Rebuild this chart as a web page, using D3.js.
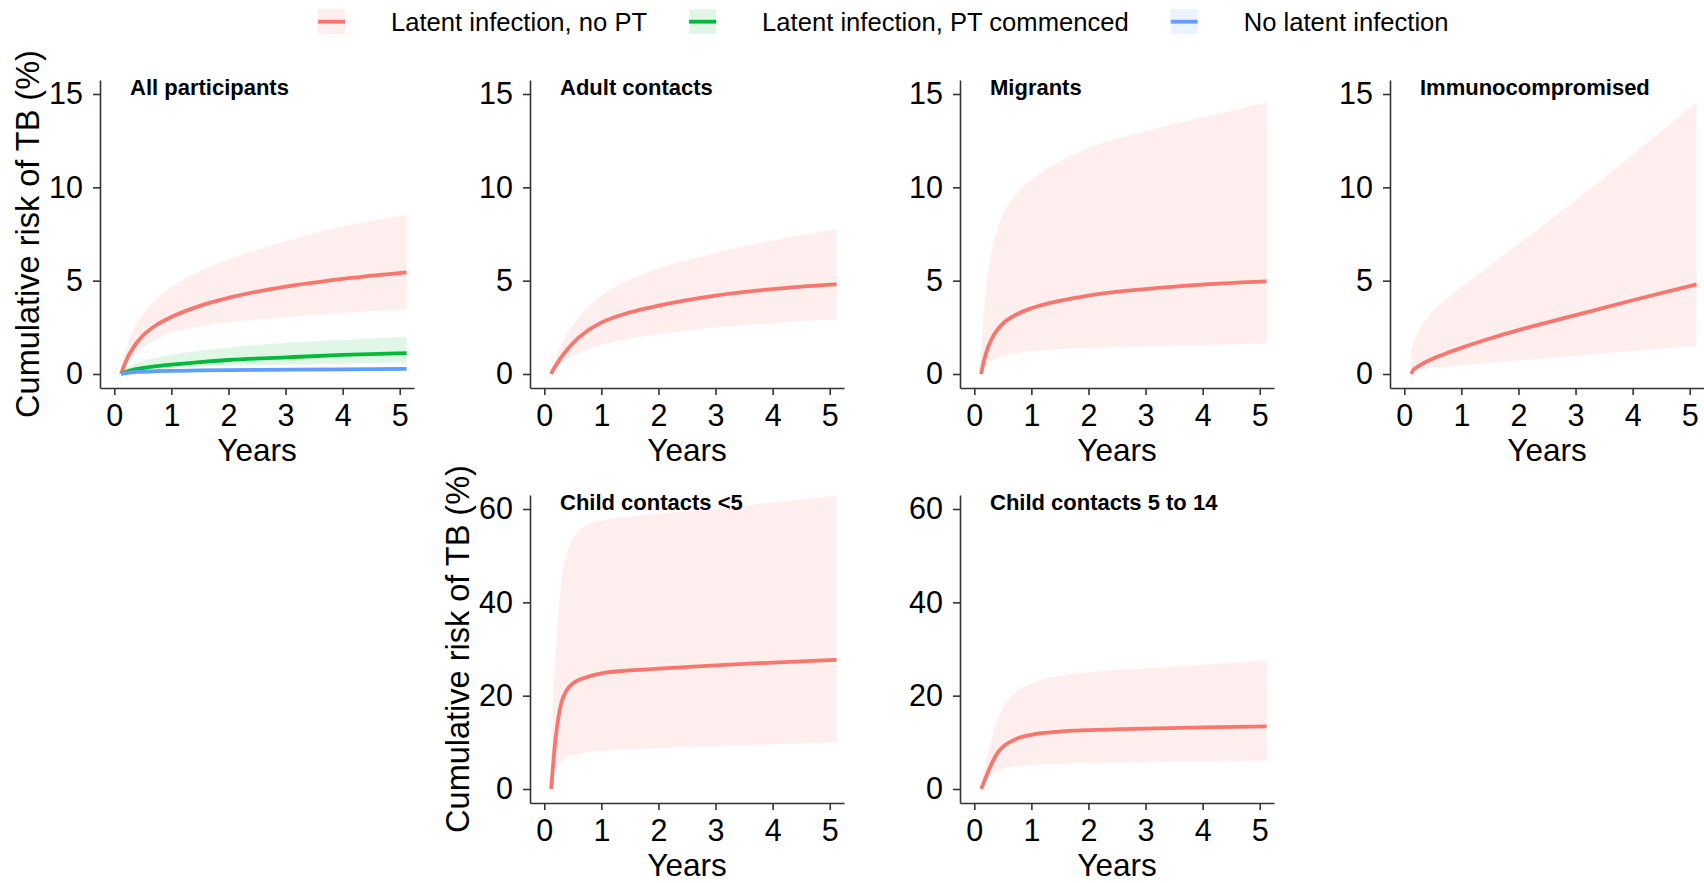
<!DOCTYPE html>
<html>
<head>
<meta charset="utf-8">
<script src="https://cdn.jsdelivr.net/npm/d3@7"></script>
<style>
  html, body { margin: 0; padding: 0; background: #fff; }
  svg { display: block; font-family: "Liberation Sans", Arial, sans-serif; }
</style>
</head>
<body>
<svg id="chart" width="1704" height="883"></svg>
<script>
// Follow-up time grid (years) shared by every curve
const years = [0.12, 0.16, 0.2, 0.25, 0.3, 0.4, 0.5, 0.75, 1, 1.5, 2, 3, 4, 5.12];

// Legend groups and colours
const groups = ["Latent infection, no PT", "Latent infection, PT commenced", "No latent infection"];
const groupColors = ["#F8766D", "#00BA38", "#619CFF"];

// All participants: estimate, lower and upper bound per group (%)
const allNoPT     = [0, 0.35, 0.65, 0.98, 1.25, 1.7, 2.05, 2.65, 3.05, 3.65, 4.08, 4.68, 5.1, 5.45];
const allNoPTLo   = [0, 0.2, 0.4, 0.65, 0.85, 1.17, 1.42, 1.9, 2.22, 2.55, 2.77, 3.04, 3.27, 3.45];
const allNoPTHi   = [0.1, 0.8, 1.25, 1.75, 2.15, 2.75, 3.2, 4.05, 4.65, 5.5, 6.15, 7.1, 7.9, 8.52];
const allPT       = [0, 0.06, 0.1, 0.16, 0.2, 0.27, 0.32, 0.42, 0.5, 0.64, 0.75, 0.89, 1.02, 1.12];
const allPTLo     = [0, 0.03, 0.06, 0.1, 0.12, 0.17, 0.21, 0.27, 0.32, 0.39, 0.45, 0.5, 0.56, 0.61];
const allPTHi     = [0.02, 0.15, 0.25, 0.36, 0.45, 0.6, 0.7, 0.88, 1.03, 1.25, 1.42, 1.66, 1.84, 1.98];
const allNone     = [0, 0.03, 0.05, 0.07, 0.09, 0.11, 0.12, 0.15, 0.17, 0.19, 0.21, 0.23, 0.25, 0.27];
const allNoneLo   = [0, 0.02, 0.03, 0.05, 0.06, 0.08, 0.09, 0.11, 0.12, 0.14, 0.15, 0.17, 0.18, 0.2];
const allNoneHi   = [0.01, 0.05, 0.08, 0.1, 0.12, 0.15, 0.17, 0.2, 0.22, 0.25, 0.28, 0.31, 0.33, 0.36];

// Subgroups, latent infection without preventive therapy (%)
const adultFit    = [0, 0.25, 0.45, 0.68, 0.9, 1.3, 1.65, 2.3, 2.75, 3.3, 3.66, 4.2, 4.55, 4.82];
const adultLo     = [0, 0.15, 0.28, 0.43, 0.56, 0.78, 0.96, 1.3, 1.56, 1.9, 2.14, 2.5, 2.73, 2.95];
const adultHi     = [0.1, 0.5, 0.85, 1.22, 1.56, 2.15, 2.63, 3.55, 4.2, 5.05, 5.65, 6.5, 7.15, 7.75];

const migFit      = [0, 0.6, 1.05, 1.5, 1.85, 2.35, 2.7, 3.2, 3.52, 3.92, 4.2, 4.55, 4.79, 4.96];
const migLo       = [0, 0.25, 0.42, 0.58, 0.7, 0.86, 0.97, 1.13, 1.23, 1.34, 1.41, 1.49, 1.56, 1.64];
const migHi       = [1.0, 3.0, 4.4, 5.6, 6.5, 7.7, 8.5, 9.7, 10.4, 11.4, 12.1, 13.0, 13.75, 14.55];

const immFit      = [0, 0.22, 0.32, 0.42, 0.52, 0.68, 0.82, 1.12, 1.4, 1.9, 2.35, 3.15, 3.95, 4.8];
const immLo       = [0.05, 0.12, 0.17, 0.22, 0.25, 0.3, 0.33, 0.4, 0.47, 0.6, 0.72, 0.98, 1.24, 1.52];
const immHi       = [1.3, 1.65, 1.95, 2.28, 2.55, 3.0, 3.38, 4.05, 4.65, 5.8, 6.95, 9.3, 11.75, 14.55];

const under5Fit   = [0, 6, 11, 15.5, 18.5, 21.3, 22.6, 24.0, 24.8, 25.4, 25.8, 26.5, 27.1, 27.7];
const under5Lo    = [0.3, 2.5, 4.3, 5.3, 5.9, 6.8, 7.3, 7.8, 8.2, 8.5, 8.75, 9.2, 9.6, 10.0];
const under5Hi    = [5, 20, 29, 38, 44.5, 50.5, 53.5, 56.5, 57.5, 58.4, 59.0, 60.0, 61.4, 62.9];

const child514Fit = [0, 1.2, 2.4, 3.9, 5.3, 7.6, 9.0, 10.8, 11.6, 12.3, 12.6, 12.95, 13.2, 13.4];
const child514Lo  = [0.3, 1.0, 1.7, 2.5, 3.1, 3.9, 4.35, 4.85, 5.15, 5.4, 5.55, 5.77, 5.92, 6.1];
const child514Hi  = [1.5, 3.5, 5.6, 8.2, 10.6, 14.6, 17.4, 20.9, 22.6, 24.2, 25.0, 25.8, 26.6, 27.6];

// Axis tick values
const xTicks = [0, 1, 2, 3, 4, 5];
const yTicksLow = [0, 5, 10, 15];
const yTicksHigh = [0, 20, 40, 60];

// Panel definitions
const panels = [
  { title: "All participants", col: 0, row: 0, yTitle: true, ticks: yTicksLow,
    series: [
      { g: 0, fit: allNoPT, lo: allNoPTLo, hi: allNoPTHi },
      { g: 1, fit: allPT, lo: allPTLo, hi: allPTHi },
      { g: 2, fit: allNone, lo: allNoneLo, hi: allNoneHi }
    ] },
  { title: "Adult contacts", col: 1, row: 0, ticks: yTicksLow,
    series: [{ g: 0, fit: adultFit, lo: adultLo, hi: adultHi }] },
  { title: "Migrants", col: 2, row: 0, ticks: yTicksLow,
    series: [{ g: 0, fit: migFit, lo: migLo, hi: migHi }] },
  { title: "Immunocompromised", col: 3, row: 0, ticks: yTicksLow,
    series: [{ g: 0, fit: immFit, lo: immLo, hi: immHi }] },
  { title: "Child contacts <5", col: 1, row: 1, yTitle: true, ticks: yTicksHigh,
    series: [{ g: 0, fit: under5Fit, lo: under5Lo, hi: under5Hi }] },
  { title: "Child contacts 5 to 14", col: 2, row: 1, ticks: yTicksHigh,
    series: [{ g: 0, fit: child514Fit, lo: child514Lo, hi: child514Hi }] }
];

const svg = d3.select("#chart");
const panelW = 314, panelH = 308;
const colStep = 430, rowStep = 415;
const left0 = 100, top0 = 80;
const axisColor = "#333333";
const lineW = 3.8;
const ribbonOpacity = 0.12;

panels.forEach(p => {
  const left = left0 + p.col * colStep;
  const top = top0 + p.row * rowStep;
  const bottom = top + panelH;
  const yMax = p.ticks[p.ticks.length - 1];
  const pad = yMax * 0.05;

  const x = d3.scaleLinear().domain([-0.25, 5.25]).range([left, left + panelW]);
  const y = d3.scaleLinear().domain([-pad, yMax + pad]).range([bottom, top]);

  const g = svg.append("g");

  const area = d3.area()
    .x(d => x(d.t)).y0(d => y(d.lo)).y1(d => y(d.hi))
    .curve(d3.curveMonotoneX);
  const line = d3.line()
    .x(d => x(d.t)).y(d => y(d.v))
    .curve(d3.curveMonotoneX);

  p.series.forEach(s => {
    const rows = years.map((t, i) => ({ t, lo: s.lo[i], hi: s.hi[i] }));
    g.append("path").datum(rows)
      .attr("d", area)
      .attr("fill", groupColors[s.g])
      .attr("fill-opacity", ribbonOpacity);
  });
  p.series.forEach(s => {
    const rows = years.map((t, i) => ({ t, v: s.fit[i] }));
    g.append("path").datum(rows)
      .attr("d", line)
      .attr("fill", "none")
      .attr("stroke", groupColors[s.g])
      .attr("stroke-width", lineW)
      .attr("stroke-linejoin", "round");
  });

  // Axes
  const xAxis = g.append("g")
    .attr("transform", `translate(0,${bottom})`)
    .call(d3.axisBottom(x).tickValues(xTicks).tickFormat(d3.format("d"))
      .tickSize(7).tickSizeOuter(0).tickPadding(9));
  const yAxis = g.append("g")
    .attr("transform", `translate(${left},0)`)
    .call(d3.axisLeft(y).tickValues(p.ticks).tickFormat(d3.format("d"))
      .tickSize(7).tickSizeOuter(0).tickPadding(10));

  [xAxis, yAxis].forEach(a => {
    a.attr("font-family", null).attr("font-size", null);
    a.select(".domain").attr("stroke", axisColor).attr("stroke-width", 1.6);
    a.selectAll(".tick line").attr("stroke", axisColor).attr("stroke-width", 1.6);
    a.selectAll(".tick text").attr("fill", "#000").style("font-size", "30.5px");
  });

  // Panel title
  g.append("text")
    .attr("x", left + 30).attr("y", top + 15)
    .style("font-size", "22px").style("font-weight", "bold")
    .attr("fill", "#000")
    .text(p.title);

  // X axis title
  g.append("text")
    .attr("x", left + panelW / 2).attr("y", bottom + 73)
    .attr("text-anchor", "middle")
    .style("font-size", "31.5px").attr("fill", "#000")
    .text("Years");

  // Y axis title
  if (p.yTitle) {
    g.append("text")
      .attr("transform", `translate(${left - 61},${(top + bottom) / 2}) rotate(-90)`)
      .attr("text-anchor", "middle")
      .style("font-size", "32.5px").attr("fill", "#000")
      .text("Cumulative risk of TB (%)");
  }
});

// Legend across the top
const legend = svg.append("g");
let lx = 318;
const keyW = 27, keyH = 25, keyTop = 9, keyMid = 21.7;
groups.forEach((name, i) => {
  legend.append("rect")
    .attr("x", lx).attr("y", keyTop).attr("width", keyW).attr("height", keyH)
    .attr("fill", groupColors[i]).attr("fill-opacity", ribbonOpacity);
  legend.append("line")
    .attr("x1", lx).attr("x2", lx + keyW).attr("y1", keyMid).attr("y2", keyMid)
    .attr("stroke", groupColors[i]).attr("stroke-width", lineW);
  const txt = legend.append("text")
    .attr("x", lx + keyW + 46).attr("y", keyMid)
    .attr("dy", "0.35em")
    .style("font-size", "25.6px").attr("fill", "#000")
    .text(name);
  lx = lx + keyW + 46 + txt.node().getComputedTextLength() + 42;
});
</script>
</body>
</html>
